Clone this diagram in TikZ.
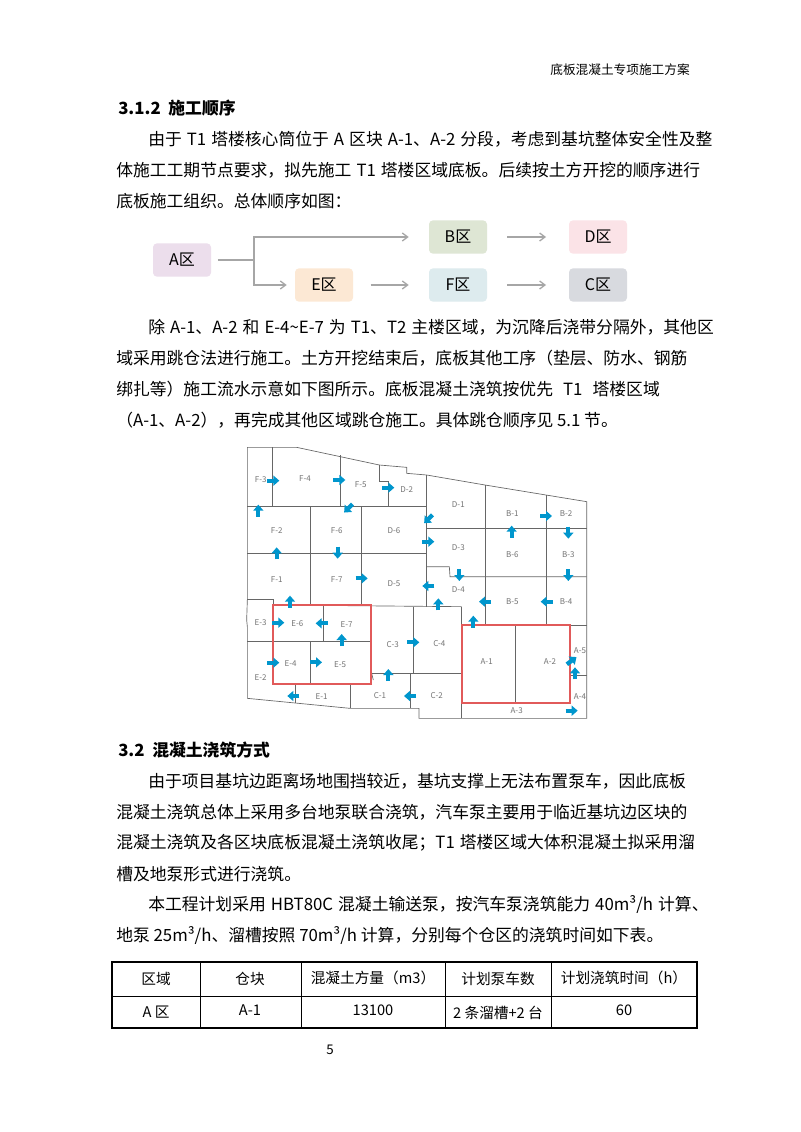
\documentclass[tikz,border=0pt]{standalone}
\usepackage{fontspec}
\setmainfont{Noto Sans CJK SC}
\usetikzlibrary{arrows.meta}
\XeTeXlinebreaklocale "zh"
\XeTeXlinebreakskip=0pt plus 3pt
\newcommand\bodyf{\fontsize{12.6}{15}\selectfont}
\newcommand\jl[2]{\makebox[#1][s]{\spaceskip=0.3em plus 1pt\relax #2}}
\tikzset{
  bt/.style={anchor=west,inner sep=0pt,font=\bodyf},
  fbox/.style={rounded corners=3pt,minimum width=43.5pt,minimum height=25pt,font=\fontsize{12}{14}\selectfont},
  flow/.style={draw=gray!70,line width=1pt,-{Straight Barb[length=4pt,width=6pt]}},
  pl/.style={draw=black!60,line width=0.5pt},
  rb/.style={draw={rgb,255:red,225;green,90;blue,90},line width=1.3pt},
  lab/.style={font=\fontsize{6}{7}\selectfont,text=black!55,inner sep=0pt},
  barrow/.style={draw={rgb,255:red,0;green,150;blue,205},line width=3.2pt,-{Triangle[length=4.5pt,width=7.5pt]}},
  tb/.style={font=\fontsize{11}{13}\selectfont,inner sep=0pt}
}
\begin{document}
\begin{tikzpicture}[x=0.75pt,y=-0.75pt]
\useasboundingbox (0,0) rectangle (800,1132);
\fill[white] (0,0) rectangle (800,1132);
\node[anchor=east,font=\fontsize{9.5}{11}\selectfont,inner sep=0pt] (hdr) at (690,70) {底板混凝土专项施工方案};
\node[bt,font=\bodyf\bfseries] (h1) at (118,108) {3.1.2\ \ 施工顺序};
\node[bt] (p1a) at (148,139) {\jl{405pt}{由于 T1 塔楼核心筒位于 A 区块 A-1、A-2 分段，考虑到基坑整体安全性及整}};
\node[bt] (p1b) at (116,170) {\jl{429pt}{体施工工期节点要求，拟先施工 T1 塔楼区域底板。后续按土方开挖的顺序进行}};
\node[bt] (p1c) at (116,201) {底板施工组织。总体顺序如图：};
% flow
\node[fbox,fill={rgb,255:red,236;green,222;blue,236}] (A) at (182,260) {A区};
\node[fbox,fill={rgb,255:red,222;green,230;blue,212}] (B) at (458,237) {B区};
\node[fbox,fill={rgb,255:red,251;green,227;blue,231}] (D) at (598,237) {D区};
\node[fbox,fill={rgb,255:red,252;green,232;blue,212}] (E) at (324,285) {E区};
\node[fbox,fill={rgb,255:red,221;green,235;blue,238}] (F) at (458,285) {F区};
\node[fbox,fill={rgb,255:red,216;green,218;blue,223}] (C) at (598,285) {C区};
\coordinate (j) at (254,260);
\draw[draw=gray!70,line width=1pt] ([xshift=5pt]A.east) -- (j);
\draw[flow] (j) |- ([xshift=-15pt]B.west);
\draw[flow] (j) |- ([xshift=-6pt]E.west);
\draw[flow] ([xshift=13pt]E.east) -- ([xshift=-15pt]F.west);
\draw[flow] ([xshift=15pt]B.east) -- ([xshift=-17pt]D.west);
\draw[flow] ([xshift=15pt]F.east) -- ([xshift=-17pt]C.west);
% para 2
\node[bt] (p2a) at (148,327) {\jl{405pt}{除 A-1、A-2 和 E-4\textasciitilde E-7 为 T1、T2 主楼区域，为沉降后浇带分隔外，其他区}};
\node[bt] (p2b) at (116,358) {\jl{429pt}{域采用跳仓法进行施工。土方开挖结束后，底板其他工序（垫层、防水、钢筋}};
\node[bt] (p2c) at (116,389) {绑扎等）施工流水示意如下图所示。底板混凝土浇筑按优先\hspace{0.6em}T1\hspace{0.6em}塔楼区域};
\node[bt] (p2d) at (116,420) {（A-1、A-2），再完成其他区域跳仓施工。具体跳仓顺序见 5.1 节。};
% plan
\begin{scope}[xshift=180pt,yshift=-330pt,x=0.25pt,y=-0.25pt]
\draw[pl] (22,22) -- (170,22) -- (418,75) -- (500,82) -- (500,100) -- (560,105) -- (735,135) -- (918,165) -- (1040,185) -- (1040,835) -- (537,835) -- (537,805) -- (330,805) -- (22,775) -- (22,560) -- (20,540) -- (22,480) -- cycle;
\draw[pl] (418,75) -- (418,125) -- (445,125) -- (445,200);
\draw[pl] (22,200) -- (560,200);
\draw[pl] (97,22) -- (97,200);
\draw[pl] (300,45) -- (300,200);
\draw[pl] (210,200) -- (210,495);
\draw[pl] (365,200) -- (365,495);
\draw[pl] (22,340) -- (560,340);
\draw[pl] (560,105) -- (560,500);
\draw[pl] (560,265) -- (1040,265);
\draw[pl] (560,380) -- (628,380) -- (630,410) -- (1040,410);
\draw[pl] (735,135) -- (735,555);
\draw[pl] (918,165) -- (918,555);
\draw[pl] (22,478) -- (100,478) -- (100,495);
\draw[pl] (100,495) -- (665,500);
\draw[pl] (665,500) -- (665,835);
\draw[pl] (665,555) -- (1040,555);
\draw[pl] (22,605) -- (100,605);
\draw[pl] (165,733) -- (165,790);
\draw[pl] (330,733) -- (330,805);
\draw[pl] (393,495) -- (395,700) -- (400,720);
\draw[pl] (520,500) -- (520,700);
\draw[pl] (395,700) -- (665,700);
\draw[pl] (510,700) -- (510,805);
\draw[pl] (990,705) -- (1040,705);
\draw[pl] (250,495) -- (250,605);
\draw[pl] (100,605) -- (393,605);
\draw[pl] (212,605) -- (212,733);
\draw[pl] (825,555) -- (825,790);
\draw[rb] (100,495) rectangle (393,733);
\draw[rb] (665,555) rectangle (990,790);
\foreach \t/\x/\y in {F-3/62/118,F-4/195/115,F-5/362/133,D-2/500/150,D-1/655/193,B-1/817/222,B-2/978/222,F-2/110/272,F-6/290/272,D-6/462/272,D-3/655/322,B-6/817/345,B-3/985/345,F-1/110/418,F-7/290/418,D-5/462/430,D-4/655/450,B-5/817/485,B-4/978/485,E-3/62/548,E-6/172/550,E-7/320/555,C-3/458/615,C-4/598/612,A-1/740/665,A-2/930/665,A-5/1020/632,E-2/62/712,E-4/152/672,E-5/300/675,E-1/245/770,C-1/420/768,C-2/590/768,A-4/1020/770,A-3/830/812}
  \node[lab] (l\t) at (\x,\y) {\t};
\foreach \x/\y/\dx/\dy in {100/122/1/0,298/120/1/0,445/143/1/0,55/212/0/-1,325/205/-0.7/0.7,565/237/-0.7/0.7,918/228/1/0,815/275/0/-1,985/278/0/1,110/340/0/-1,293/338/0/1,565/305/1/0,365/415/1/0,658/405/0/1,985/405/0/1,565/438/-1/0,735/485/-1/0,920/485/-1/0,150/485/0/-1,595/493/0/-1,700/545/0/-1,115/548/1/0,245/550/-1/0,305/600/0/-1,520/607/1/0,100/668/1/0,228/667/1/0,445/705/0/-1,995/662/0.8/-0.6,1005/700/0/-1,160/768/-1/0,510/768/-1/0,995/812/1/0}
  \draw[barrow] (\x-18*\dx,\y-18*\dy) -- (\x+18*\dx,\y+18*\dy);
\end{scope}
% 3.2
\node[bt,font=\bodyf\bfseries] (h2) at (118,750) {3.2\ \ 混凝土浇筑方式};
\node[bt] (q1) at (148,781) {\jl{405pt}{由于项目基坑边距离场地围挡较近，基坑支撑上无法布置泵车，因此底板}};
\node[bt] (q2) at (116,812) {\jl{429pt}{混凝土浇筑总体上采用多台地泵联合浇筑，汽车泵主要用于临近基坑边区块的}};
\node[bt] (q3) at (116,843) {\jl{429pt}{混凝土浇筑及各区块底板混凝土浇筑收尾；T1 塔楼区域大体积混凝土拟采用溜}};
\node[bt] (q4) at (116,874) {槽及地泵形式进行浇筑。};
\node[bt] (q5) at (148,905) {\jl{405pt}{本工程计划采用 HBT80C 混凝土输送泵，按汽车泵浇筑能力 40m³/h 计算、}};
\node[bt] (q6) at (116,936) {地泵 25m³/h、溜槽按照 70m³/h 计算，分别每个仓区的浇筑时间如下表。};
% table
\draw[line width=0.8pt] (112,962) rectangle (697,1028);
\draw[line width=0.6pt] (112,996) -- (697,996);
\foreach \x in {200,301,445,551} \draw[line width=0.6pt] (\x,962) -- (\x,1028);
\node[tb] (t11) at (156,979) {区域};
\node[tb] (t12) at (250,979) {仓块};
\node[tb] (t13) at (373,978) {混凝土方量（m3）};
\node[tb] (t14) at (498,979) {计划泵车数};
\node[tb] (t15) at (624,978) {计划浇筑时间（h）};
\node[tb] (t21) at (156,1012) {A 区};
\node[tb] (t22) at (250,1010) {A-1};
\node[tb] (t23) at (373,1010) {13100};
\node[tb] (t24) at (498,1013) {2 条溜槽+2 台};
\node[tb] (t25) at (624,1010) {60};
\node[font=\fontsize{10}{12}\selectfont,inner sep=0pt] (pg) at (330,1050) {5};
\end{tikzpicture}
\end{document}
